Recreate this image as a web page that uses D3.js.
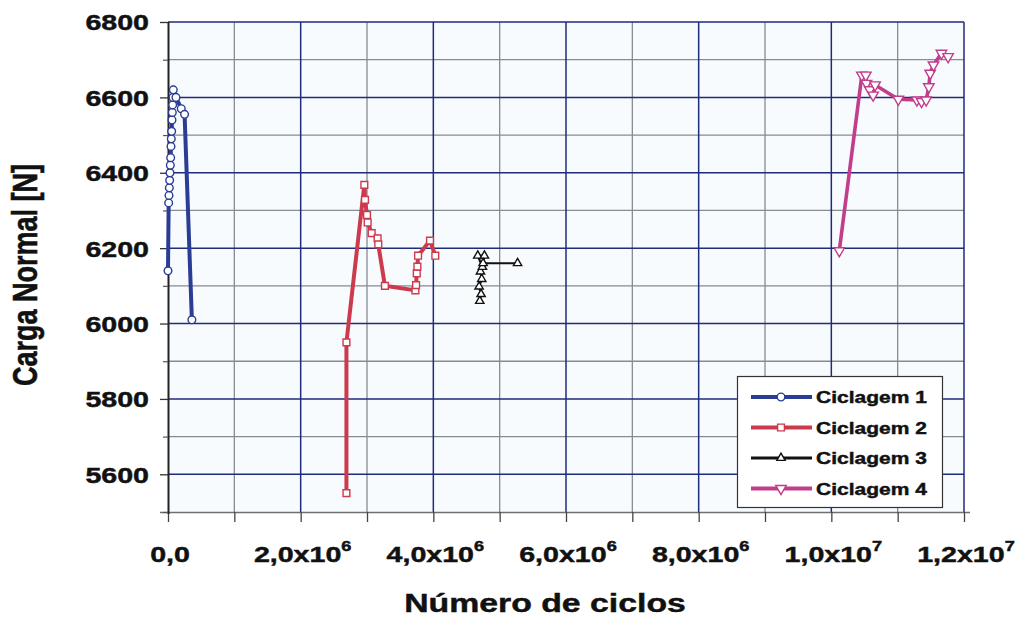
<!DOCTYPE html>
<html>
<head>
<meta charset="utf-8">
<script src="https://cdn.jsdelivr.net/npm/d3@7"></script>
<style>
  html, body { margin: 0; padding: 0; background: #ffffff; }
  svg { display: block; font-family: "Liberation Sans", Arial, sans-serif; font-weight: bold; }
  svg text { stroke: #111; stroke-width: 0.45px; }
</style>
</head>
<body>
<svg id="chart" width="1019" height="621"></svg>
<script>
// Ciclagem 1
const s1x = [0, 10000, 15000, 20000, 25000, 30000, 35000, 40000, 45000, 50000, 55000, 60000, 65000, 70000, 75000, 80000, 120000, 200000, 250000, 360000];
const s1y = [6140, 6320, 6340, 6360, 6380, 6400, 6420, 6440, 6470, 6490, 6510, 6540, 6560, 6580, 6600, 6620, 6600, 6570, 6555, 6010];
// Ciclagem 2
const s2x = [2690000, 2690000, 2960000, 2970000, 3000000, 3010000, 3070000, 3160000, 3170000, 3270000, 3730000, 3740000, 3750000, 3760000, 3770000, 3950000, 4030000];
const s2y = [5550, 5950, 6368, 6328, 6288, 6268, 6240, 6226, 6210, 6100, 6088, 6102, 6133, 6151, 6180, 6220, 6180];
// Ciclagem 3
const s3x = [4700000, 4720000, 4690000, 4730000, 4710000, 4740000, 4670000, 4770000, 4750000, 5270000];
const s3y = [6060, 6078, 6098, 6118, 6138, 6150, 6180, 6180, 6160, 6160];
// Ciclagem 4
const s4x = [10120000, 10460000, 10520000, 10530000, 10580000, 10630000, 10660000, 11010000, 11290000, 11360000, 11430000, 11470000, 11490000, 11540000, 11660000, 11760000];
const s4y = [6193, 6659, 6659, 6637, 6620, 6606, 6633, 6595, 6593, 6589, 6593, 6628, 6664, 6686, 6717, 6708];

const seriesNames = ["Ciclagem 1", "Ciclagem 2", "Ciclagem 3", "Ciclagem 4"];

// axis ticks and labels
const xMajorTicks = [0, 2000000, 4000000, 6000000, 8000000, 10000000, 12000000];
const xTickBase = ["0,0", "2,0x10", "4,0x10", "6,0x10", "8,0x10", "1,0x10", "1,2x10"];
const xTickExp = ["", "6", "6", "6", "6", "7", "7"];
const xMinorTicks = [1000000, 3000000, 5000000, 7000000, 9000000, 11000000];
const yMajorTicks = [5600, 5800, 6000, 6200, 6400, 6600, 6800];
const yMinorTicks = [5500, 5700, 5900, 6100, 6300, 6500, 6700];

const xTitle = "Número de ciclos";
const yTitle = "Carga Normal [N]";

const colors = ["#2b3c95", "#cb3a4d", "#111111", "#c23d8c"];
const stretch = 1.3; // wide lettering used throughout

const svg = d3.select("#chart");
const pLeft = 168, pRight = 964, pTop = 22, pBottom = 512;

const x = d3.scaleLinear().domain([0, 12000000]).range([pLeft, pRight]);
const y = d3.scaleLinear().domain([5500, 6800]).range([pBottom, pTop]);

// plot background
svg.append("rect")
  .attr("x", pLeft).attr("y", pTop)
  .attr("width", pRight - pLeft).attr("height", pBottom - pTop)
  .attr("fill", "#f8fbfd");

// grid: major lines navy, minor lines gray
const grid = svg.append("g");
const navy = "#1f2b7c", gray = "#858c92";
grid.selectAll("line.vmin").data(xMinorTicks).join("line")
  .attr("x1", d => x(d)).attr("x2", d => x(d)).attr("y1", pTop).attr("y2", pBottom)
  .attr("stroke", gray).attr("stroke-width", 1.3);
grid.selectAll("line.hmin").data(yMinorTicks.filter(d => d > 5500)).join("line")
  .attr("x1", pLeft).attr("x2", pRight).attr("y1", d => y(d)).attr("y2", d => y(d))
  .attr("stroke", gray).attr("stroke-width", 1.3);
grid.selectAll("line.vmaj").data(xMajorTicks.filter(d => d > 0)).join("line")
  .attr("x1", d => x(d)).attr("x2", d => x(d)).attr("y1", pTop).attr("y2", pBottom)
  .attr("stroke", navy).attr("stroke-width", 1.5);
grid.selectAll("line.hmaj").data(yMajorTicks).join("line")
  .attr("x1", pLeft).attr("x2", pRight).attr("y1", d => y(d)).attr("y2", d => y(d))
  .attr("stroke", navy).attr("stroke-width", 1.5);

// bottom axis
const xAxisG = svg.append("g").attr("transform", `translate(0,${pBottom})`);
xAxisG.call(d3.axisBottom(x).tickValues(xMajorTicks.concat(xMinorTicks)).tickSize(10).tickFormat(""));
xAxisG.select(".domain").attr("stroke", "#6f6f6f").attr("stroke-width", 1.5).attr("d", `M${pLeft - 8},0.5H${pRight + 6}`);
xAxisG.selectAll(".tick line").attr("stroke", "#444").attr("stroke-width", 1.3);

const xLab = svg.append("g");
xMajorTicks.forEach((v, i) => {
  const g = xLab.append("g").attr("transform", `translate(${x(v) + 2},562)`);
  const t = g.append("text").attr("transform", `scale(${stretch},1)`)
    .attr("text-anchor", "middle").attr("font-size", 22).attr("fill", "#111");
  t.append("tspan").text(xTickBase[i]);
  if (xTickExp[i]) {
    t.append("tspan").attr("font-size", 14).attr("dy", -11).text(xTickExp[i]);
  }
});

// left axis
const yAxisG = svg.append("g").attr("transform", `translate(${pLeft},0)`);
yAxisG.call(d3.axisLeft(y).tickValues(yMajorTicks).tickSize(8).tickFormat(d3.format("d")));
yAxisG.select(".domain").attr("stroke", "#222").attr("stroke-width", 2).attr("d", `M0.5,${pTop}V${pBottom + 2}`);
yAxisG.selectAll(".tick line").attr("stroke", "#333").attr("stroke-width", 1.3);
yAxisG.selectAll(".tick text")
  .attr("transform", `scale(${stretch},1)`)
  .attr("x", -19 / stretch).attr("dy", "0.36em")
  .attr("font-size", 22).attr("font-family", "Liberation Sans, Arial, sans-serif")
  .attr("font-weight", "bold").attr("fill", "#111");
const yMinorG = svg.append("g").attr("transform", `translate(${pLeft},0)`);
yMinorG.call(d3.axisLeft(y).tickValues(yMinorTicks).tickSize(5).tickFormat(""));
yMinorG.select(".domain").remove();
yMinorG.selectAll(".tick line").attr("stroke", "#555").attr("stroke-width", 1.2);

// axis titles
svg.append("g").attr("transform", "translate(545,612)")
  .append("text").attr("transform", `scale(${stretch},1)`)
  .attr("text-anchor", "middle").attr("font-size", 26).attr("fill", "#111").text(xTitle);
svg.append("g").attr("transform", `translate(37,275) scale(${stretch},1) rotate(-90)`)
  .append("text").attr("text-anchor", "middle").attr("font-size", 27).attr("fill", "#111").text(yTitle);

// series
const data = [[s1x, s1y], [s2x, s2y], [s3x, s3y], [s4x, s4y]].map(([xs, ys]) => xs.map((v, i) => [v, ys[i]]));
const widths = [4, 4, 2.2, 3.6];
const symbols = [
  d3.symbol().type(d3.symbolCircle).size(46),
  d3.symbol().type(d3.symbolSquare).size(46),
  d3.symbol().type(d3.symbolTriangle).size(30),
  d3.symbol().type(d3.symbolTriangle).size(48)
];
const rot = [0, 0, 0, 180];

const line = d3.line().x(d => x(d[0])).y(d => y(d[1]));
const plot = svg.append("g");
data.forEach((pts, k) => {
  plot.append("path").datum(pts)
    .attr("d", line).attr("fill", "none")
    .attr("stroke", colors[k]).attr("stroke-width", widths[k])
    .attr("stroke-linejoin", "round");
});
data.forEach((pts, k) => {
  plot.selectAll(null).data(pts).join("path")
    .attr("d", symbols[k])
    .attr("transform", d => `translate(${x(d[0])},${y(d[1])}) rotate(${rot[k]})`)
    .attr("fill", "#ffffff").attr("stroke", colors[k]).attr("stroke-width", 1.4);
});

// legend
const lg = svg.append("g");
lg.append("rect").attr("x", 737.5).attr("y", 376.5).attr("width", 205).attr("height", 131)
  .attr("fill", "#ffffff").attr("stroke", "#333").attr("stroke-width", 1.2);
seriesNames.forEach((name, k) => {
  const ry = 397 + k * 30.5;
  lg.append("line").attr("x1", 751).attr("x2", 812).attr("y1", ry).attr("y2", ry)
    .attr("stroke", colors[k]).attr("stroke-width", k === 2 ? 3 : 4);
  lg.append("path").attr("d", symbols[k])
    .attr("transform", `translate(781,${ry}) rotate(${rot[k]})`)
    .attr("fill", "#fff").attr("stroke", colors[k]).attr("stroke-width", 1.4);
  lg.append("g").attr("transform", `translate(816,${ry + 6})`)
    .append("text").attr("transform", `scale(${stretch * 0.95},1)`)
    .attr("font-size", 17).attr("fill", "#111").text(name);
});
</script>
</body>
</html>
